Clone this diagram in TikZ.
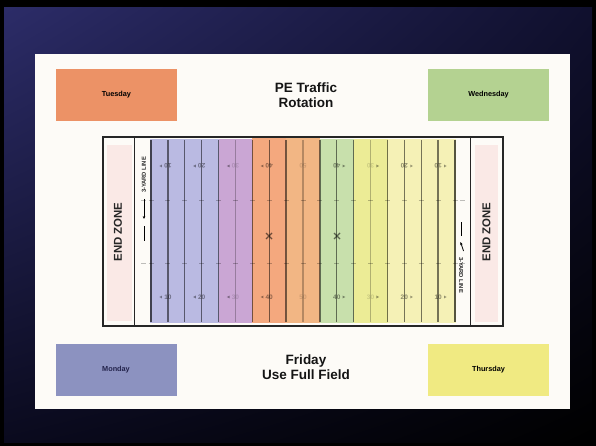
\documentclass[tikz,border=0pt]{standalone}
\usepackage{fontspec}
\setmainfont{Liberation Sans}
\usetikzlibrary{arrows.meta,shadings}
\definecolor{tue}{RGB}{236,146,102}
\definecolor{wed}{RGB}{180,210,145}
\definecolor{mon}{RGB}{140,146,192}
\definecolor{thu}{RGB}{240,234,130}
\definecolor{panel}{RGB}{253,251,247}
\definecolor{ezpink}{RGB}{250,233,230}
\definecolor{bblue}{RGB}{186,186,226}
\definecolor{bpurp}{RGB}{202,166,212}
\definecolor{bor1}{RGB}{244,168,126}
\definecolor{bor2}{RGB}{242,182,132}
\definecolor{bgreen}{RGB}{200,224,172}
\definecolor{byel1}{RGB}{236,236,150}
\definecolor{byel2}{RGB}{245,241,182}
\definecolor{bgnavy}{RGB}{44,44,104}
\definecolor{bgmid}{RGB}{16,16,46}
\definecolor{bgdark}{RGB}{10,10,30}
\begin{document}
\begin{tikzpicture}[x=1pt,y=-1pt,
  daybox/.style={minimum width=121pt, minimum height=52pt, inner sep=0pt,
    font=\bfseries\fontsize{7.3}{8}\selectfont},
  titletxt/.style={font=\bfseries\fontsize{13.5}{15}\selectfont, align=center, text=black!92, inner sep=0pt},
  ezone/.style={font=\bfseries\fontsize{11.4}{12}\selectfont, rotate=90, text=black!85, inner sep=0pt},
  threeyd/.style={font=\bfseries\fontsize{5.8}{6}\selectfont, inner sep=0pt, text=black!85},
  yardline/.style={line width=1.4pt, draw=black, draw opacity=0.52},
  fadeline/.style={line width=1.4pt, draw=black, draw opacity=0.25},
  hashmark/.style={line width=0.8pt, draw=black, draw opacity=0.25},
  numtxt/.style={font=\bfseries\fontsize{6.5}{7}\selectfont, inner sep=0pt, text=black, text opacity=0.42},
  fadenum/.style={font=\bfseries\fontsize{6.5}{7}\selectfont, inner sep=0pt, text=black, text opacity=0.14},
  outline/.style={line width=1.2pt, draw=black!85},
  xmark/.style={line width=1.1pt, draw=black, draw opacity=0.55}
]
\useasboundingbox (0,0) rectangle (596,446);
% background
\fill[black] (0,0) rectangle (596,446);
\shade[upper left=bgnavy, upper right=bgmid, lower left=bgdark, lower right=black]
  (4,8) rectangle (592,442);
% panel
\fill[panel] (35,54) rectangle (570,409);
% day boxes
\node[daybox, fill=tue] (tue) at (116.5,95) {Tuesday};
\node[daybox, fill=wed] (wed) at (488.5,95) {Wednesday};
\node[daybox, fill=mon, text={rgb,255:red,35;green,35;blue,75}] (mon) at (116,369.5) {Monday};
\node[daybox, fill=thu] (thu) at (488.5,369.5) {Thursday};
\node[titletxt] (title) at (306,95) {PE Traffic\\Rotation};
\node[titletxt] (fri) at (306,367) {Friday\\Use Full Field};
% end zones
\fill[ezpink] (107,145) rectangle (132,321);
\fill[ezpink] (475,145) rectangle (498,322);
\node[ezone] (ezl) at (118,232) {END ZONE};
\node[ezone] (ezr) at (486.5,232) {END ZONE};
% colored bands
\fill[bblue]  (150,139) rectangle (218.6,323);
\fill[bpurp]  (218.6,139) rectangle (252.3,323);
\fill[bor1]   (252.3,137) rectangle (286.1,323);
\fill[bor2]   (286.1,137) rectangle (319.9,323);
\fill[bgreen] (319.9,139) rectangle (353.7,323);
\fill[byel1]  (353.7,139) rectangle (387.5,323);
\fill[byel2]  (387.5,139) rectangle (456,323);
% yard lines
\foreach \k in {2,3,4,5,7,8,9,11,12,13,15,16,17,18} {
  \pgfmathsetmacro\xx{151+16.89*(\k-1)}
  \draw[yardline] (\xx,140) -- (\xx,322);
}
\foreach \k in {6,10,14} {
  \pgfmathsetmacro\xx{151+16.89*(\k-1)}
  \draw[fadeline] (\xx,140) -- (\xx,322);
}
\foreach \k in {1,19} {
  \pgfmathsetmacro\xx{151+16.89*(\k-1)}
  \draw[yardline, line width=1.7pt, draw opacity=0.65] (\xx,140) -- (\xx,322);
}
\foreach \k in {1,...,19} {
  \pgfmathsetmacro\xx{151+16.89*(\k-1)}
  \draw[hashmark] (\xx-2.5,200) -- (\xx+2.5,200);
  \draw[hashmark] (\xx-2.5,263) -- (\xx+2.5,263);
}
\draw[hashmark] (141,200) -- (146,200);
\draw[hashmark] (141,263) -- (146,263);
\draw[hashmark] (460,200) -- (465,200);
\draw[hashmark] (460,263) -- (465,263);
% yard numbers
\foreach \k/\lab/\st in {2/10/numtxt,4/20/numtxt,6/30/fadenum,8/40/numtxt,
    10/50/fadenum,12/40/numtxt,14/30/fadenum,16/20/numtxt,18/10/numtxt} {
  \pgfmathsetmacro\xx{151+16.89*(\k-1)}
  \node[\st, rotate=180] (nt\k) at (\xx,166) {\lab};
  \node[\st] (nb\k) at (\xx,297) {\lab};
}
% direction arrows beside numbers
\foreach \k in {2,4,6,8} {
  \pgfmathsetmacro\xa{151+16.89*(\k-1)-8.5}
  \fill[black, fill opacity=0.4] (\xa,166) -- ++(2.6,-1.4) -- ++(0,2.8) -- cycle;
  \fill[black, fill opacity=0.4] (\xa,297) -- ++(2.6,-1.4) -- ++(0,2.8) -- cycle;
}
\foreach \k in {12,14,16,18} {
  \pgfmathsetmacro\xa{151+16.89*(\k-1)+8.5}
  \fill[black, fill opacity=0.4] (\xa,166) -- ++(-2.6,-1.4) -- ++(0,2.8) -- cycle;
  \fill[black, fill opacity=0.4] (\xa,297) -- ++(-2.6,-1.4) -- ++(0,2.8) -- cycle;
}
% X marks
\draw[xmark] (266,233) -- (272,239) (266,239) -- (272,233);
\draw[xmark] (334,233) -- (340,239) (334,239) -- (340,233);
% field outline
\draw[outline] (103,137) rectangle (503,326);
\draw[outline] (134.5,137) -- (134.5,326);
\draw[outline] (470.5,137) -- (470.5,326);
% 3-yard line marks
\node[threeyd, rotate=90] (ydl) at (144,175) {3-YARD LINE};
\coordinate (al1) at (144,199);
\coordinate (al2) at (144,219);
\draw[line width=0.8pt, -{Stealth[length=3pt,width=2.6pt]}] (al1) -- (al2);
\draw[line width=0.8pt] (144,226) -- (144,241);
\node[threeyd, rotate=-90] (ydr) at (461,275) {3-YARD LINE};
\coordinate (ar1) at (463.5,251);
\coordinate (ar2) at (460.5,242);
\draw[line width=0.8pt, -{Stealth[length=3pt,width=2.6pt]}] (ar1) -- (ar2);
\draw[line width=0.8pt] (461,222) -- (461,236);
\end{tikzpicture}
\end{document}
